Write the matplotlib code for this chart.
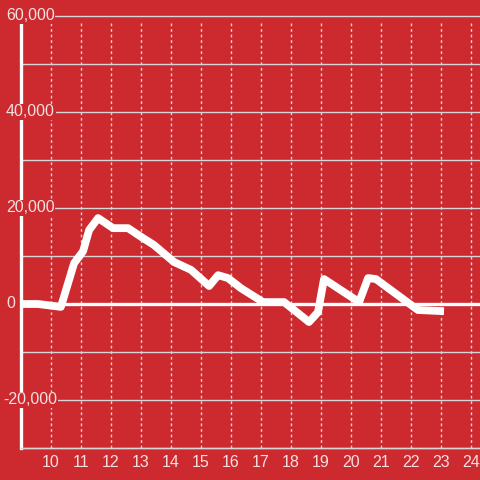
import matplotlib
matplotlib.use("Agg")
import matplotlib.pyplot as plt
from matplotlib import transforms

# data (hour of day, value)
hours = [9.0, 9.57, 10.33, 10.77, 11.07, 11.27, 11.57, 12.07, 12.57, 13.0, 13.43,
         14.1, 14.67, 15.27, 15.57, 15.9, 16.33, 17.07, 17.77, 18.6, 18.9, 19.1,
         20.27, 20.57, 20.83, 22.23, 23.1]
values = [0, 0, -600, 8500, 11000, 15400, 17900, 15800, 15800, 14000, 12300,
          8750, 7100, 3750, 6000, 5400, 3300, 400, 400, -3750, -1700, 5200,
          400, 5400, 5200, -1250, -1500]
x_ticks = list(range(10, 25))
y_ticks = [-20000, 0, 20000, 40000, 60000]
y_grid = [-30000, -10000, 10000, 30000, 50000]

red = "#CC2A2F"
txt = "#F3E1E1"
grid = "#D6D6D6"

plt.rcParams["font.family"] = ["Liberation Sans", "DejaVu Sans"]

fig = plt.figure(figsize=(4.8, 4.8), dpi=100, facecolor=red)
ax = fig.add_axes([21 / 480, 32 / 480, 459 / 480, 432 / 480], facecolor=red)
ax.set_xlim(9.0, 24.3)
ax.set_ylim(-30000, 60000)

top_frac = (58500 + 30000) / 90000
for h in x_ticks:
    ax.axvline(h, ymin=0, ymax=top_frac, color=grid, lw=1, ls=(0, (2, 2)), zorder=1)
for v in y_ticks + y_grid:
    if v != 0:
        ax.axhline(v, color=grid, lw=1, zorder=1, clip_on=False)
ax.axhline(0, color="white", lw=2.4, zorder=2)

ax.plot(hours, values, color="white", lw=5.6, solid_joinstyle="round",
        solid_capstyle="butt", zorder=3)

for s in ["top", "right"]:
    ax.spines[s].set_visible(False)
ax.spines["left"].set_color("white")
ax.spines["left"].set_linewidth(2.4)
ax.spines["left"].set_bounds(-30000, 58500)
ax.spines["bottom"].set_color(grid)
ax.spines["bottom"].set_linewidth(1)

ax.set_xticks(x_ticks)
ax.set_xticklabels([str(h) for h in x_ticks])
ax.tick_params(axis="x", length=0, pad=5, labelsize=11.5, labelcolor=txt)
ax.set_yticks([])

tr = transforms.blended_transform_factory(fig.transFigure, ax.transData)
for v in y_ticks:
    lab = "{:,}".format(v)
    x0 = 3 / 480 if v < 0 else 6 / 480
    ax.text(x0, v, lab, transform=tr, ha="left", va="center", fontsize=11.5,
            color=txt, zorder=5, clip_on=False,
            bbox=dict(facecolor=red, edgecolor="none", pad=0.5))

fig.savefig("out.png", dpi=100, facecolor=red)
